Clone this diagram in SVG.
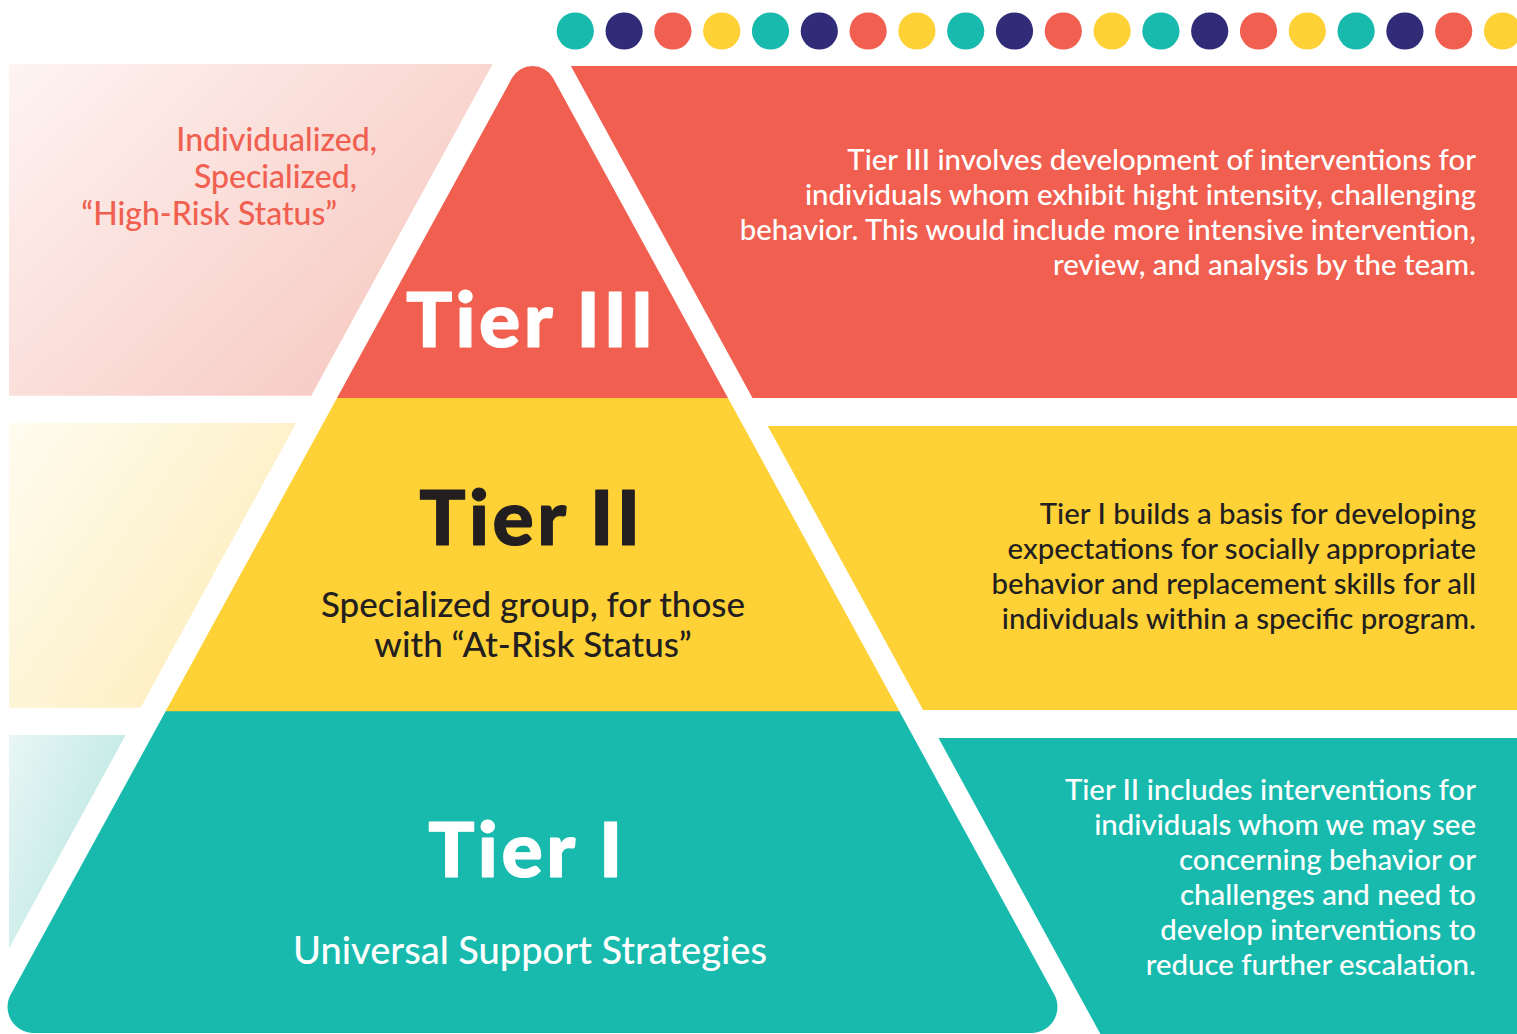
<svg xmlns="http://www.w3.org/2000/svg" width="1517" height="1034" viewBox="0 0 1517 1034">
  <defs>
    <linearGradient id="gPink" x1="0" y1="0" x2="1" y2="0.7">
      <stop offset="0" stop-color="#FEF4F2"/>
      <stop offset="1" stop-color="#F7C8C1"/>
    </linearGradient>
    <linearGradient id="gYellow" x1="0" y1="0" x2="1" y2="0.7">
      <stop offset="0" stop-color="#FFFCF0"/>
      <stop offset="1" stop-color="#FDEDBA"/>
    </linearGradient>
    <linearGradient id="gTeal" x1="0" y1="0" x2="1" y2="0.7">
      <stop offset="0" stop-color="#E9F6F5"/>
      <stop offset="1" stop-color="#B6E6E0"/>
    </linearGradient>
    <style>
      .teal{fill:#17BAAC}
      .navy{fill:#302C77}
      .red{fill:#F05F4F}
      .yellow{fill:#FED136}
      text{font-family:Lato,"Open Sans","Liberation Sans",sans-serif}
      .head{font-size:77px;font-weight:900;text-anchor:middle;letter-spacing:3.5px;stroke-width:1.2px;stroke-linejoin:round}
      .sub{font-weight:500;text-anchor:middle}
      .body{font-size:29.4px;font-weight:500;text-anchor:end}
      .w{fill:#FFFFFF}
      .hw{fill:#FFFFFF;stroke:#FFFFFF}
      .d{fill:#231F20}
      .hd{fill:#231F20;stroke:#231F20}
      .side{font-size:32px;font-weight:500;text-anchor:end;fill:#F05F4F}
    </style>
  </defs>
  <rect width="1517" height="1034" fill="#FFFFFF"/>

  <g id="dots">
    <circle class="teal" cx="575.3" cy="31" r="18.6"/>
    <circle class="navy" cx="624.1" cy="31" r="18.6"/>
    <circle class="red" cx="672.9" cy="31" r="18.6"/>
    <circle class="yellow" cx="721.7" cy="31" r="18.6"/>
    <circle class="teal" cx="770.5" cy="31" r="18.6"/>
    <circle class="navy" cx="819.3" cy="31" r="18.6"/>
    <circle class="red" cx="868.1" cy="31" r="18.6"/>
    <circle class="yellow" cx="916.9" cy="31" r="18.6"/>
    <circle class="teal" cx="965.7" cy="31" r="18.6"/>
    <circle class="navy" cx="1014.5" cy="31" r="18.6"/>
    <circle class="red" cx="1063.3" cy="31" r="18.6"/>
    <circle class="yellow" cx="1112.1" cy="31" r="18.6"/>
    <circle class="teal" cx="1160.9" cy="31" r="18.6"/>
    <circle class="navy" cx="1209.7" cy="31" r="18.6"/>
    <circle class="red" cx="1258.5" cy="31" r="18.6"/>
    <circle class="yellow" cx="1307.3" cy="31" r="18.6"/>
    <circle class="teal" cx="1356.1" cy="31" r="18.6"/>
    <circle class="navy" cx="1404.9" cy="31" r="18.6"/>
    <circle class="red" cx="1453.7" cy="31" r="18.6"/>
    <circle class="yellow" cx="1502.5" cy="31" r="18.6"/>
  </g>

  <g id="left-panels">
    <polygon id="left-tier3" points="9,64 492.7,64 311.2,395.7 9,395.7" fill="url(#gPink)"/>
    <polygon id="left-tier2" points="9,423 296.3,423 140.6,707.7 9,707.7" fill="url(#gYellow)"/>
    <polygon id="left-tier1" points="9,735 125.7,735 9,948.3" fill="url(#gTeal)"/>
  </g>

  <g id="right-panels">
    <polygon id="right-tier3" class="red" points="570.9,66 1517,66 1517,398 752.5,398"/>
    <polygon id="right-tier2" class="yellow" points="767.8,426 1517,426 1517,710 923.1,710"/>
    <polygon id="right-tier1" class="teal" points="938.5,738 1517,738 1517,1034 1100.4,1034"/>
  </g>

  <g id="pyramid">
    <g id="tier1">
      <path class="teal" d="M165.8,711 L899.2,711 L1054.3,994.6 A26,26 0 0 1 1031.5,1033 L33.5,1033 A26,26 0 0 1 10.7,994.6 Z"/>
      <text class="head hw" x="527" y="877">Tier I</text>
      <text class="sub w" x="530" y="964" font-size="38">Universal Support Strategies</text>
    </g>
    <g id="tier2">
      <path class="yellow" d="M337.3,397.5 L727.7,397.5 L899.4,711.3 L165.6,711.3 Z"/>
      <text class="head hd" x="531.5" y="545">Tier II</text>
      <text class="sub d" x="533" y="617" font-size="35">Specialized group, for those</text>
      <text class="sub d" x="533" y="657" font-size="35">with “At-Risk Status”</text>
    </g>
    <g id="tier3">
      <path class="red" d="M337,398 L511.96,78.1 A23.4,23.4 0 0 1 553.04,78.1 L728,398 Z"/>
      <text class="head hw" x="531.5" y="347">Tier III</text>
    </g>
  </g>

  <g id="side-label">
    <text class="side" x="377" y="151">Individualized,</text>
    <text class="side" x="357" y="188">Specialized,</text>
    <text class="side" x="337" y="225">“High-Risk Status”</text>
  </g>

  <g id="desc-tier3">
    <text class="body w" x="1476" y="170">Tier III involves development of interventions for</text>
    <text class="body w" x="1476" y="205">individuals whom exhibit hight intensity, challenging</text>
    <text class="body w" x="1476" y="240">behavior. This would include more intensive intervention,</text>
    <text class="body w" x="1476" y="275">review, and analysis by the team.</text>
  </g>
  <g id="desc-tier2">
    <text class="body d" x="1476" y="524">Tier I builds a basis for developing</text>
    <text class="body d" x="1476" y="559">expectations for socially appropriate</text>
    <text class="body d" x="1476" y="594">behavior and replacement skills for all</text>
    <text class="body d" x="1476" y="629">individuals within a specific program.</text>
  </g>
  <g id="desc-tier1">
    <text class="body w" x="1476" y="800">Tier II includes interventions for</text>
    <text class="body w" x="1476" y="835">individuals whom we may see</text>
    <text class="body w" x="1476" y="870">concerning behavior or</text>
    <text class="body w" x="1476" y="905">challenges and need to</text>
    <text class="body w" x="1476" y="940">develop interventions to</text>
    <text class="body w" x="1476" y="975">reduce further escalation.</text>
  </g>
  <g id="connectors"/>
</svg>
